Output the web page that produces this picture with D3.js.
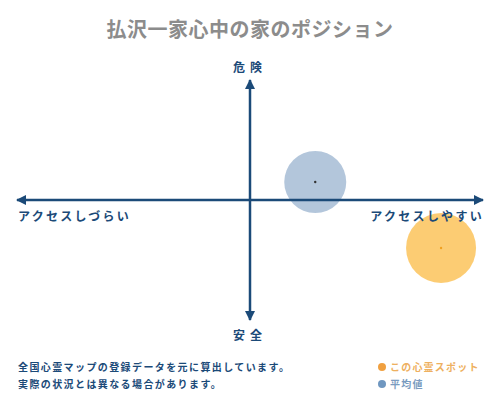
<!DOCTYPE html>
<html><head><meta charset="utf-8">
<script src="https://cdn.jsdelivr.net/npm/d3@7"></script>
<style>body{margin:0;background:#fff}</style>
</head><body>
<script>
const title = "払沢一家心中の家のポジション";
const axisLabels = {top:"危険", bottom:"安全", left:"アクセスしづらい", right:"アクセスしやすい"};
const seriesNames = ["この心霊スポット","平均値"];
const xValues = [8.2, 2.8];
const yValues = [-4.0, 1.5];
const sizes = [35, 31];
const notes = ["全国心霊マップの登録データを元に算出しています。","実際の状況とは異なる場合があります。"];

const W=500,H=400;
const font = "'Noto Sans CJK JP', sans-serif";
const navy = "#1b4a78";
const fills = ["#fcc35a","#8aa8c8"];
const legendColors = ["#f0a040","#6f97c0"];
const textColors = ["#eeb060","#7a9cc0"];

const svg = d3.select("body").append("svg").attr("width",W).attr("height",H);
const x = d3.scaleLinear().domain([-10,10]).range([17,483]);
const y = d3.scaleLinear().domain([-10,10]).range([320,80]);

svg.append("text").attr("x",250).attr("y",37).attr("text-anchor","middle")
  .attr("font-family",font).attr("font-size",20).attr("font-weight","bold")
  .attr("letter-spacing",0.5).attr("fill","#8c8c8c").text(title);

const defs = svg.append("defs");
defs.append("marker").attr("id","ah").attr("viewBox","0 0 10 10").attr("refX",9).attr("refY",5)
  .attr("markerWidth",4).attr("markerHeight",4).attr("orient","auto-start-reverse").attr("markerUnits","strokeWidth")
  .append("path").attr("d","M0,0L10,5L0,10z").attr("fill",navy);

const data = seriesNames.map((n,i)=>({n,x:xValues[i],y:yValues[i],r:sizes[i],i}));
data.slice().reverse().forEach(d=>{
  svg.append("ellipse").attr("cx",x(d.x)).attr("cy",y(d.y)).attr("rx",d.r).attr("ry",d.r)
    .attr("fill",fills[d.i]).attr("opacity",d.i===0?0.85:0.65);
});

[[-10,0],[10,0],[0,10],[0,-10]].forEach(([ex,ey])=>{
  svg.append("line").attr("x1",x(0)).attr("x2",x(ex)).attr("y1",y(0)).attr("y2",y(ey))
    .attr("stroke",navy).attr("stroke-width",2.5).attr("marker-end","url(#ah)");
});

data.forEach(d=>{
  svg.append("circle").attr("cx",x(d.x)).attr("cy",y(d.y)).attr("r",1.2)
    .attr("fill",d.i===0?"#f0a020":"#333");
});

const lab = (t,xx,yy,anchor,ls)=>svg.append("text").attr("x",xx).attr("y",yy).attr("text-anchor",anchor)
  .attr("font-family",font).attr("font-size",12).attr("font-weight","bold").attr("fill",navy)
  .attr("letter-spacing",ls).text(t);
lab(axisLabels.top,250,72,"middle",5);
lab(axisLabels.bottom,250,340,"middle",5);
lab(axisLabels.left,18,221,"start",2.3);
lab(axisLabels.right,484,221,"end",2.3);

notes.forEach((t,i)=>{
  svg.append("text").attr("x",18).attr("y",371+i*17).attr("font-family",font).attr("font-size",10)
    .attr("font-weight","bold").attr("fill",navy).attr("letter-spacing",1.4).text(t);
});
seriesNames.forEach((n,i)=>{
  svg.append("circle").attr("cx",382).attr("cy",367+i*17).attr("r",4).attr("fill",legendColors[i]);
  svg.append("text").attr("x",390).attr("y",371+i*17).attr("font-family",font).attr("font-size",10)
    .attr("font-weight","bold").attr("fill",textColors[i]).attr("letter-spacing",1.2).text(n);
});
</script>
</body></html>
